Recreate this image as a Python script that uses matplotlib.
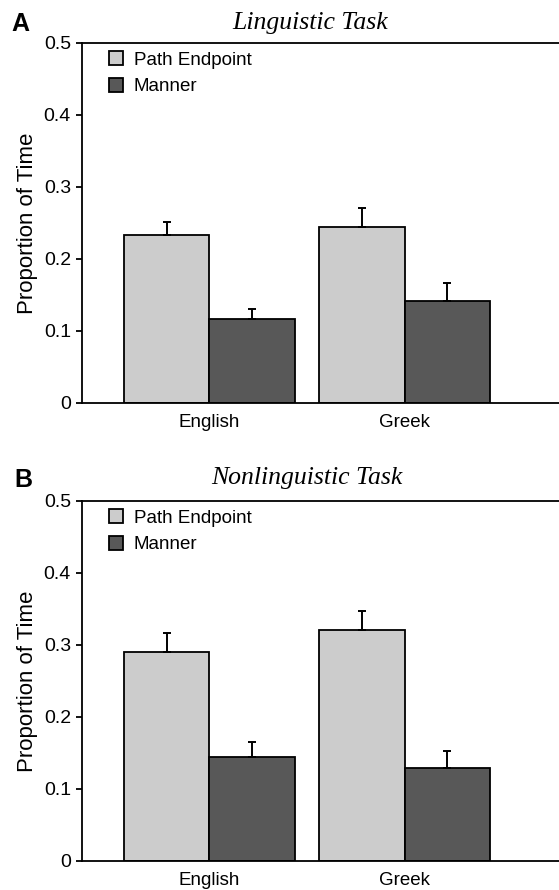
import numpy as np
import matplotlib
matplotlib.use('Agg')
import matplotlib.pyplot as plt
from matplotlib.patches import Patch

# Data
languages = ['English', 'Greek']
series_names = ['Path Endpoint', 'Manner']

ling_path = [0.234, 0.245]
ling_path_err = [0.018, 0.026]
ling_manner = [0.117, 0.141]
ling_manner_err = [0.014, 0.026]

nonling_path = [0.290, 0.321]
nonling_path_err = [0.026, 0.026]
nonling_manner = [0.144, 0.129]
nonling_manner_err = [0.021, 0.024]

yticks = [0, 0.1, 0.2, 0.3, 0.4, 0.5]
ytick_labels = ['0', '0.1', '0.2', '0.3', '0.4', '0.5']

light, dark = '#cccccc', '#585858'

plt.rcParams['font.family'] = ['Liberation Sans', 'DejaVu Sans']

fig = plt.figure(figsize=(5.59, 8.90), dpi=100)

def draw_panel(ax, path, path_err, manner, manner_err):
    x = np.arange(len(languages))
    w = 0.437
    kw = dict(edgecolor='black', linewidth=1.3,
              error_kw=dict(elinewidth=1.4, capsize=3, capthick=1.4, ecolor='black'))
    ax.bar(x - w / 2, path, w, color=light,
           yerr=[np.zeros(len(path)), path_err], **kw)
    ax.bar(x + w / 2, manner, w, color=dark,
           yerr=[np.zeros(len(manner)), manner_err], **kw)
    ax.set_xlim(-0.652, 1.79)
    ax.set_ylim(0, 0.5)
    ax.set_yticks(yticks)
    ax.set_yticklabels(ytick_labels, fontsize=14)
    ax.set_xticks(x)
    ax.set_xticklabels(languages, fontsize=13.5)
    ax.tick_params(axis='x', length=0, pad=8)
    ax.tick_params(axis='y', length=4, width=1.3, direction='out', pad=4)
    ax.set_ylabel('Proportion of Time', fontsize=16, labelpad=4)
    ax.spines['right'].set_visible(False)
    for s in ['left', 'bottom', 'top']:
        ax.spines[s].set_linewidth(1.3)
    handles = [Patch(facecolor=light, edgecolor='black', linewidth=1.3),
               Patch(facecolor=dark, edgecolor='black', linewidth=1.3)]
    ax.legend(handles, series_names, loc='upper left', frameon=False, fontsize=13.5,
              handlelength=0.75, handleheight=0.75, handletextpad=0.55,
              labelspacing=0.5, bbox_to_anchor=(0.022, 1.024))

ax_a = fig.add_axes([0.1467, 0.5472, 0.8533, 0.4045])
draw_panel(ax_a, ling_path, ling_path_err, ling_manner, ling_manner_err)
ax_b = fig.add_axes([0.1467, 0.0326, 0.8533, 0.4045])
draw_panel(ax_b, nonling_path, nonling_path_err, nonling_manner, nonling_manner_err)

# Panel titles and letters
fig.text(310 / 559, 1 - 23 / 890, 'Linguistic Task', fontsize=18.5, style='italic',
         family='Liberation Serif', ha='center', va='center')
fig.text(306.5 / 559, 1 - 478 / 890, 'Nonlinguistic Task', fontsize=18.5, style='italic',
         family='Liberation Serif', ha='center', va='center')
fig.text(11 / 559, 1 - 24 / 890, 'A', fontsize=18, fontweight='bold', ha='left', va='center')
fig.text(14 / 559, 1 - 480 / 890, 'B', fontsize=18, fontweight='bold', ha='left', va='center')

fig.savefig('out.png', dpi=100)
